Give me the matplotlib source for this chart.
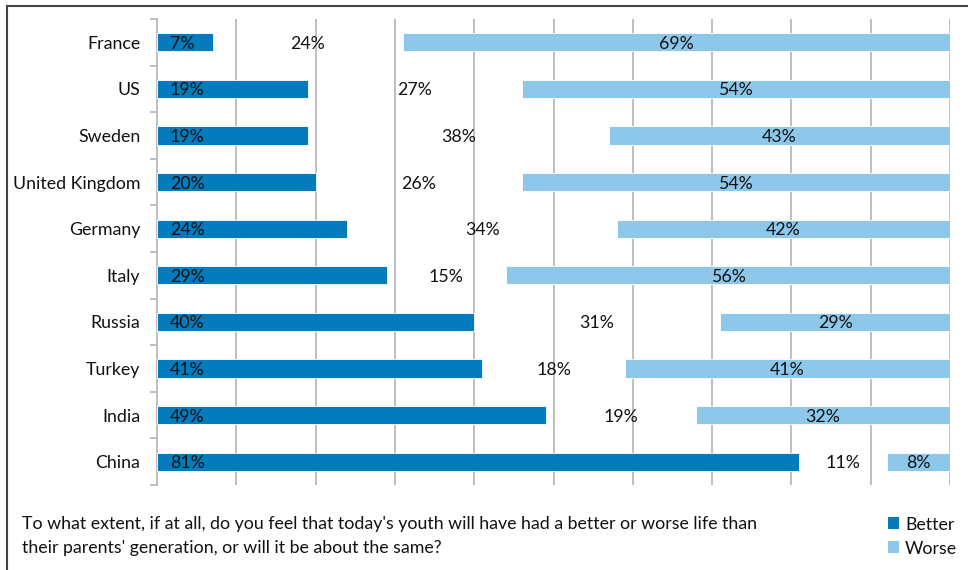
import matplotlib
matplotlib.use("Agg")
import matplotlib.pyplot as plt
import numpy as np
from matplotlib.lines import Line2D
from matplotlib.patches import Rectangle

countries = ["France", "US", "Sweden", "United Kingdom", "Germany", "Italy",
             "Russia", "Turkey", "India", "China"]
better = [7, 19, 19, 20, 24, 29, 40, 41, 49, 81]
same = [24, 27, 38, 26, 34, 15, 31, 18, 19, 11]
worse = [69, 54, 43, 54, 42, 56, 29, 41, 32, 8]

question_lines = ["To what extent, if at all, do you feel that today's youth will have had a better or worse life than",
                  "their parents' generation, or will it be about the same?"]

DARK = "#037BBD"
LIGHT = "#8DC8EA"
FONT = "Lato"

plt.rcParams['font.family'] = [FONT, 'DejaVu Sans']

fig = plt.figure(figsize=(9.68, 5.70), dpi=100)
ax = fig.add_axes([157/968, 1-485/570, (950-157)/968, (485-19)/570])

y = np.arange(len(countries))
h = 0.39
better = np.array(better); same = np.array(same); worse = np.array(worse)
ax.barh(y, better, height=h, color=DARK, edgecolor="white", linewidth=0.6, zorder=3)
ax.barh(y, worse, left=better + same, height=h, color=LIGHT, edgecolor="white", linewidth=0.6, zorder=3)

fs = 12.8
TXT = "#111111"
for i in range(len(countries)):
    ax.text(1.6, y[i], f"{better[i]}%", va="center_baseline", ha="left", fontsize=fs, color=TXT, zorder=4)
    ax.text(better[i] + same[i] / 2, y[i], f"{same[i]}%", va="center_baseline", ha="center", fontsize=fs, color=TXT, zorder=4)
    ax.text(better[i] + same[i] + worse[i] / 2, y[i], f"{worse[i]}%", va="center_baseline", ha="center", fontsize=fs, color=TXT, zorder=4)

ax.set_xlim(0, 100)
ax.set_ylim(len(countries) - 0.5, -0.5)
ax.set_xticks(np.arange(10, 101, 10))
ax.xaxis.grid(True, color="#B4B4B4", linewidth=1.2, zorder=0)
ax.tick_params(axis="x", length=0, labelbottom=False)
ax.set_yticks(y)
ax.set_yticklabels(countries, fontsize=fs, color=TXT)
ax.set_yticks(np.arange(-0.5, len(countries), 1), minor=True)
ax.tick_params(axis="y", which="major", length=0, pad=12)
ax.tick_params(axis="y", which="minor", length=5, color="#B4B4B4", width=1.2, direction="out")
for s in ["top", "right", "bottom"]:
    ax.spines[s].set_visible(False)
ax.spines["left"].set_color("#B4B4B4")
ax.spines["left"].set_linewidth(1.2)
ax.set_axisbelow(True)

# question text
fig.text(22/968, 1-523/570, question_lines[0], fontsize=fs, va="center_baseline", ha="left", color=TXT)
fig.text(22/968, 1-547/570, question_lines[1], fontsize=fs, va="center_baseline", ha="left", color=TXT)

# legend
fig.patches.append(Rectangle((888/968, 1-529/570), 11/968, 12/570, transform=fig.transFigure,
                             facecolor=DARK, edgecolor="none"))
fig.patches.append(Rectangle((888/968, 1-553/570), 11/968, 12/570, transform=fig.transFigure,
                             facecolor=LIGHT, edgecolor="none"))
fig.text(905/968, 1-523/570, "Better", fontsize=fs, va="center_baseline", ha="left", color=TXT)
fig.text(905/968, 1-547/570, "Worse", fontsize=fs, va="center_baseline", ha="left", color=TXT)

# frame
fig.add_artist(Line2D([7/968, 7/968], [0, 1-6/570], transform=fig.transFigure, color="#444444", linewidth=1.5))
fig.add_artist(Line2D([7/968, 1], [1-6/570, 1-6/570], transform=fig.transFigure, color="#444444", linewidth=1.5))

fig.savefig("out.png", dpi=100)
